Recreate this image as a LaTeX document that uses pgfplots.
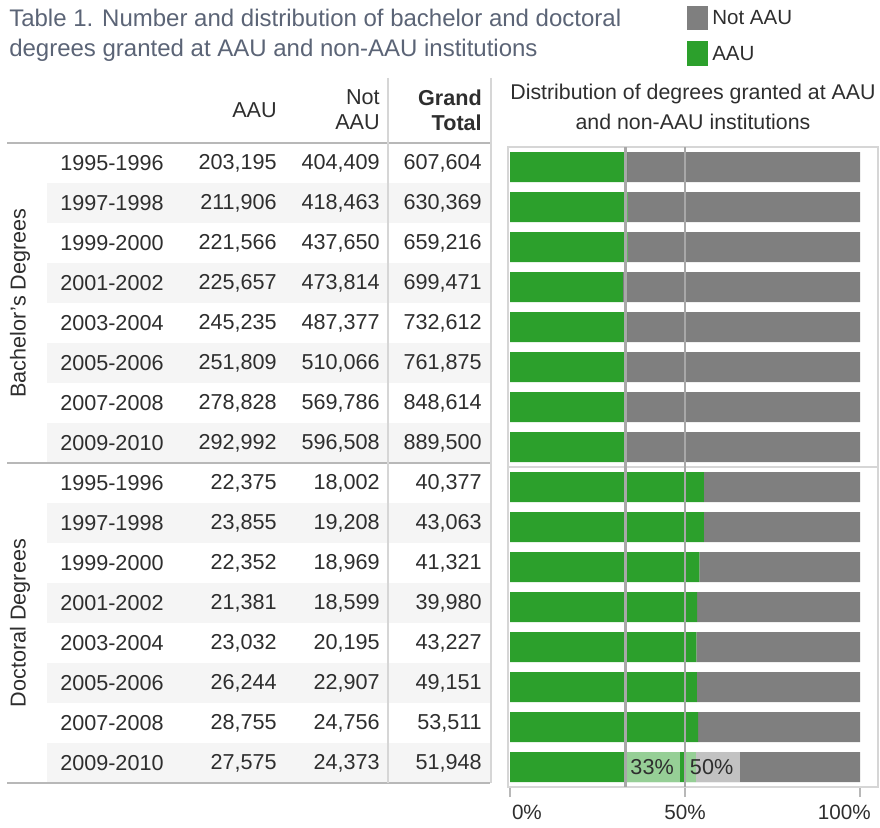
\documentclass[border=0pt]{standalone}
\usepackage{pgfplots}
\pgfplotsset{compat=1.18}
\usepackage{fontspec}
\setmainfont{Liberation Sans}
\definecolor{aaugreen}{HTML}{2CA02C}
\definecolor{notgray}{HTML}{7F7F7F}
\definecolor{lgreen}{HTML}{96CF96}
\definecolor{lgray}{HTML}{C2C2C2}
\definecolor{stripe}{HTML}{F5F5F5}
\definecolor{titlec}{HTML}{5B6476}
\definecolor{txt}{HTML}{2E2E2E}
\definecolor{rulec}{HTML}{B8B8B8}
\definecolor{framec}{HTML}{D6D6D6}
\definecolor{refl}{HTML}{A8A8A8}
\pgfplotsset{paneaxis/.style={
  at={(381pt,-590.25pt)}, anchor=south west,
  scale only axis, width=277.5pt, height=480pt,
  xmin=-0.57, xmax=105.14, ymin=-0.5, ymax=15.5,
  y dir=reverse, clip=false}}
\begin{document}
\begin{tikzpicture}[every node/.style={font=\fontsize{16.2}{19}\selectfont, text=txt, inner sep=0pt}]
\begin{scope}[x=0.75pt,y=-0.75pt]
\useasboundingbox (0,0) rectangle (880,827);
% title
\node[anchor=west, text=titlec, font=\fontsize{18}{21}\selectfont] at (9,18) {Table 1. Number and distribution of bachelor and doctoral};
\node[anchor=west, text=titlec, font=\fontsize{18}{21}\selectfont] at (9,50) {degrees granted at AAU and non-AAU institutions};
% legend
\fill[notgray] (687,6) rectangle (708,30);
\node[anchor=west, font=\fontsize{15.4}{18}\selectfont] at (712,18) {Not AAU};
\fill[aaugreen] (687,41) rectangle (708,66);
\node[anchor=west, font=\fontsize{15.4}{18}\selectfont] at (712,54) {AAU};
% stripes
\foreach \i in {1,3,5,7,9,11,13,15}{
  \fill[stripe] (47,143+40*\i) rectangle (490,183+40*\i);
}
% table rules
\draw[rulec, line width=1.5pt] (7,143) -- (490,143);
\draw[rulec, line width=1.5pt] (7,463) -- (490,463);
\draw[rulec, line width=1.5pt] (7,783) -- (490,783);
\draw[framec, line width=1.2pt] (388,78) -- (388,783);
\draw[framec, line width=1.2pt] (491,78) -- (491,783);
% headers
\node[anchor=east] at (277,110) {AAU};
\node[anchor=east, align=right] at (380,110) {Not\\AAU};
\node[anchor=east, align=right, font=\fontsize{16.2}{19}\selectfont\bfseries] at (482,110) {Grand\\Total};
\node[align=center, font=\fontsize{16}{22}\selectfont] at (693,107) {Distribution of degrees granted at AAU\\and non-AAU institutions};
% group labels
\node[rotate=90] at (20,303) {Bachelor's Degrees};
\node[rotate=90] at (20,623) {Doctoral Degrees};
% table body
\foreach \i/\yr/\a/\n/\t in {
0/1995-1996/{203,195}/{404,409}/{607,604},
1/1997-1998/{211,906}/{418,463}/{630,369},
2/1999-2000/{221,566}/{437,650}/{659,216},
3/2001-2002/{225,657}/{473,814}/{699,471},
4/2003-2004/{245,235}/{487,377}/{732,612},
5/2005-2006/{251,809}/{510,066}/{761,875},
6/2007-2008/{278,828}/{569,786}/{848,614},
7/2009-2010/{292,992}/{596,508}/{889,500},
8/1995-1996/{22,375}/{18,002}/{40,377},
9/1997-1998/{23,855}/{19,208}/{43,063},
10/1999-2000/{22,352}/{18,969}/{41,321},
11/2001-2002/{21,381}/{18,599}/{39,980},
12/2003-2004/{23,032}/{20,195}/{43,227},
13/2005-2006/{26,244}/{22,907}/{49,151},
14/2007-2008/{28,755}/{24,756}/{53,511},
15/2009-2010/{27,575}/{24,373}/{51,948}}{
  \node[anchor=west] at (60,163+40*\i) {\yr};
  \node[anchor=east] at (277,163+40*\i) {\a};
  \node[anchor=east] at (380,163+40*\i) {\n};
  \node[anchor=east] at (482,163+40*\i) {\t};
}
\end{scope}
\begin{axis}[
  paneaxis,
  xbar stacked, bar width=22.5pt,
  xtick={0,50,100},
  xticklabels={\makebox[0pt][l]{\hspace*{1.5pt}0\%}, 50\%, \makebox[0pt][r]{100\%\hspace*{-8pt}}},
  xtick pos=bottom, tick align=outside, major tick length=7.5pt,
  ytick=\empty,
  axis line style={framec, line width=1.2pt},
  tick style={rulec, line width=1.2pt},
  xticklabel style={font=\fontsize{15.5}{18}\selectfont, text=txt, inner sep=0pt, yshift=-6pt},
]
\addplot[fill=aaugreen, draw=none] coordinates {
(33.44,0) (33.62,1) (33.61,2) (32.26,3) (33.47,4) (33.05,5) (32.86,6) (32.94,7)
(55.42,8) (55.40,9) (54.09,10) (53.48,11) (53.28,12) (53.40,13) (53.74,14) (53.08,15)};
\addplot[fill=notgray, draw=none] coordinates {
(66.56,0) (66.38,1) (66.39,2) (67.74,3) (66.53,4) (66.95,5) (67.14,6) (67.06,7)
(44.58,8) (44.60,9) (45.91,10) (46.52,11) (46.72,12) (46.60,13) (46.26,14) (46.92,15)};
\end{axis}
\begin{axis}[paneaxis, axis lines=none, xtick=\empty, ytick=\empty]
\draw[framec, line width=1.5pt] (axis cs:-0.57,7.5) -- (axis cs:105.14,7.5);
\fill[lgreen] (axis cs:33.5,14.625) rectangle (axis cs:48.6,15.375);
\fill[lgreen] (axis cs:50.3,14.625) rectangle (axis cs:53.08,15.375);
\fill[lgray] (axis cs:53.08,14.625) rectangle (axis cs:65.7,15.375);
\draw[refl, line width=2.2pt] (axis cs:33,-0.5) -- (axis cs:33,15.5);
\draw[refl, line width=2.2pt] (axis cs:50,-0.5) -- (axis cs:50,15.5);
\node at (axis cs:40.6,15) {33\%};
\node at (axis cs:57.6,15) {50\%};
\end{axis}
\end{tikzpicture}
\end{document}
